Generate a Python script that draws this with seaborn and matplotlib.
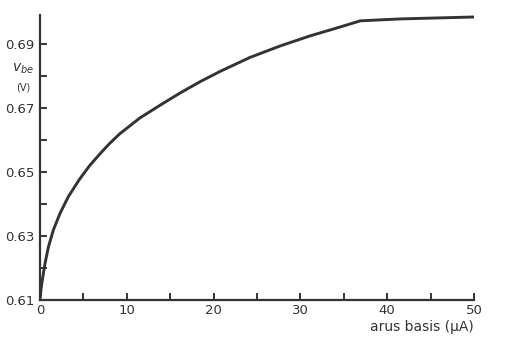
import matplotlib
matplotlib.use("Agg")
import matplotlib.pyplot as plt
import seaborn as sns
import pandas as pd

# base current (uA) and base-emitter voltage (V)
arus_basis = [0, 0.12, 0.27, 0.58, 0.96, 1.54, 2.31, 3.27, 4.5, 5.7, 6.9, 8.0, 9.2,
              11.5, 13.9, 16.2, 18.5, 20.8, 24.2, 27.7, 31.1, 34.6, 36.9, 41.5, 50]
v_be = [0.61, 0.6135, 0.6163, 0.6215, 0.6265, 0.6319, 0.6371, 0.6423, 0.6475,
        0.6519, 0.6556, 0.6588, 0.6619, 0.6668, 0.6709, 0.6747, 0.6782, 0.6814,
        0.6857, 0.6893, 0.6924, 0.6952, 0.6971, 0.6977, 0.6983]

x_ticks = [0, 5, 10, 15, 20, 25, 30, 35, 40, 45, 50]
x_tick_labels = ["0", "", "10", "", "20", "", "30", "", "40", "", "50"]
y_ticks = [0.61, 0.62, 0.63, 0.64, 0.65, 0.66, 0.67, 0.68, 0.69]
y_tick_labels = ["0.61", "", "0.63", "", "0.65", "", "0.67", "", "0.69"]

sns.set_style("ticks")
plt.rcParams["font.family"] = ["DejaVu Sans"]

ink = "#333333"
df = pd.DataFrame({"arus": arus_basis, "vbe": v_be})

fig = plt.figure(figsize=(5.13, 3.43), dpi=100)
ax = fig.add_axes([0.078, 0.125, 0.846, 0.832])
sns.lineplot(data=df, x="arus", y="vbe", ax=ax, color=ink, linewidth=2.1)

ax.set_xlim(0, 50)
ax.set_ylim(0.61, 0.699)
ax.set_xticks(x_ticks, x_tick_labels)
ax.set_yticks(y_ticks, y_tick_labels)
ax.tick_params(direction="in", length=5, width=1.4, color=ink,
               labelsize=9.5, labelcolor=ink)
ax.tick_params(axis="x", pad=3)
ax.tick_params(axis="y", pad=4)

for side in ("top", "right"):
    ax.spines[side].set_visible(False)
for side in ("left", "bottom"):
    ax.spines[side].set_color(ink)
    ax.spines[side].set_linewidth(1.6)

ax.set_xlabel("")
ax.set_ylabel("")
fig.text(0.924, 0.035, "arus basis (μA)", ha="right", va="baseline",
         fontsize=10, color=ink)
fig.text(0.045, 0.80, r"$v_{be}$", ha="center", va="center", fontsize=10, color=ink)
fig.text(0.045, 0.745, "(V)", ha="center", va="center", fontsize=7, color=ink)

fig.savefig("out.png", dpi=100, facecolor="white")
